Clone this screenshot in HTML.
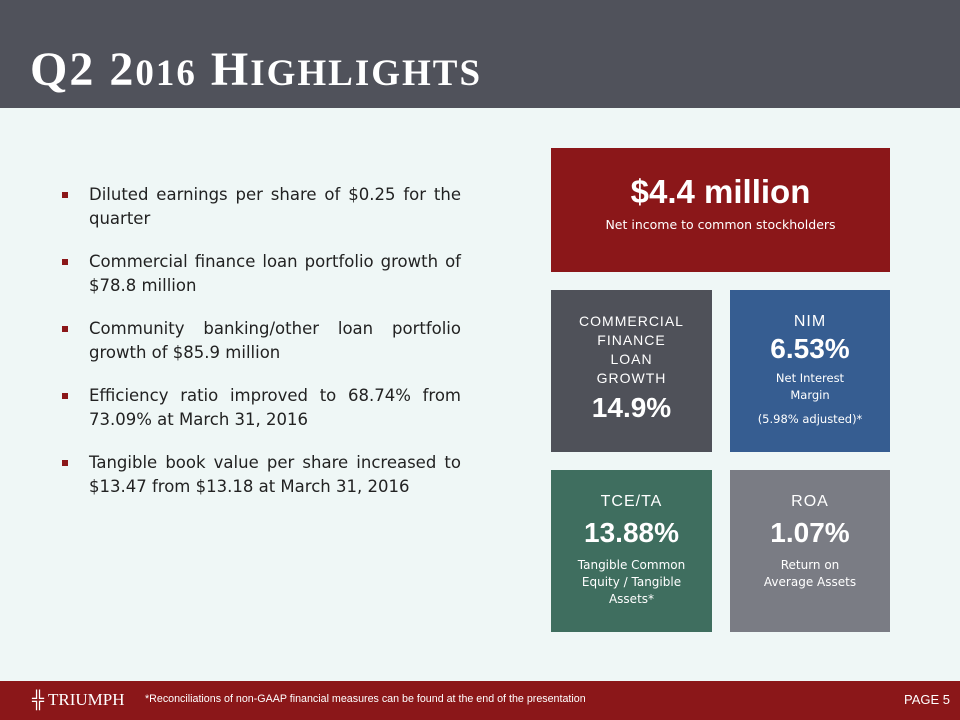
<!DOCTYPE html>
<html><head><meta charset="utf-8"><style>
*{margin:0;padding:0;box-sizing:border-box}
body{width:960px;height:720px;background:#eff7f6;position:relative;overflow:hidden;font-family:"Liberation Sans",sans-serif;color:#fff}
.hdr{position:absolute;left:0;top:0;width:960px;height:108px;background:#50525b}
.title{position:absolute;left:30px;top:42px;font-family:"Liberation Serif",serif;font-weight:bold;font-size:48px;color:#fff;letter-spacing:2px}
.title small{font-size:37px}
.ftr{position:absolute;left:0;top:681px;width:960px;height:39px;background:#8b1719}
.box{position:absolute;text-align:center}
ul{position:absolute;left:89px;top:183px;width:372px;list-style:none;color:#222;font-family:"DejaVu Sans","Liberation Sans",sans-serif;font-size:16.5px;line-height:24px;text-align:justify}
li{position:relative;margin-bottom:19px}
li:before{content:"";position:absolute;left:-27px;top:9px;width:6px;height:6px;background:#8b1719}
.lbl{font-size:15px;letter-spacing:1px}
.big{font-weight:bold;font-size:28px}
.sm{font-family:"DejaVu Sans",sans-serif;font-size:11.5px;line-height:17px}
</style></head><body>
<div class="hdr"></div>
<div class="title">Q2 2<small>016</small> H<small>IGHLIGHTS</small></div>
<ul>
<li>Diluted earnings per share of $0.25 for the quarter</li>
<li>Commercial finance loan portfolio growth of $78.8 million</li>
<li>Community banking/other loan portfolio growth of $85.9 million</li>
<li>Efficiency ratio improved to 68.74% from 73.09% at March 31, 2016</li>
<li>Tangible book value per share increased to $13.47 from $13.18 at March 31, 2016</li>
</ul>
<div class="box" style="left:551px;top:148px;width:339px;height:124px;background:#8b1719">
<div style="font-weight:bold;font-size:33px;margin-top:25px">$4.4 million</div>
<div class="sm" style="font-size:12.5px;margin-top:5px">Net income to common stockholders</div></div>
<div class="box" style="left:551px;top:290px;width:161px;height:162px;background:#4f5159">
<div class="lbl" style="margin-top:22px;line-height:19px;font-size:14px">COMMERCIAL<br>FINANCE<br>LOAN<br>GROWTH</div>
<div class="big" style="margin-top:4px">14.9%</div></div>
<div class="box" style="left:730px;top:290px;width:160px;height:162px;background:#365d91">
<div class="lbl" style="margin-top:23px;font-size:16px">NIM</div>
<div class="big" style="margin-top:2px">6.53%</div>
<div class="sm" style="margin-top:5px">Net Interest<br>Margin</div>
<div class="sm" style="margin-top:7px">(5.98% adjusted)*</div></div>
<div class="box" style="left:551px;top:470px;width:161px;height:162px;background:#3f6e5f">
<div class="lbl" style="margin-top:23px;font-size:16px">TCE/TA</div>
<div class="big" style="margin-top:6px">13.88%</div>
<div class="sm" style="margin-top:8px;font-size:12px">Tangible Common<br>Equity / Tangible<br>Assets*</div></div>
<div class="box" style="left:730px;top:470px;width:160px;height:162px;background:#7a7c84">
<div class="lbl" style="margin-top:23px;font-size:16px">ROA</div>
<div class="big" style="margin-top:6px">1.07%</div>
<div class="sm" style="margin-top:8px;font-size:12px">Return on<br>Average Assets</div></div>
<div class="ftr">
<div style="position:absolute;left:32px;top:9px;font-family:'Liberation Serif',serif;font-size:17px">╬ TRIUMPH</div>
<div style="position:absolute;left:145px;top:12px;font-size:10.7px">*Reconciliations of non-GAAP financial measures can be found at the end of the presentation</div>
<div style="position:absolute;right:10px;top:11px;font-size:13px">PAGE 5</div>
</div>
</body></html>
